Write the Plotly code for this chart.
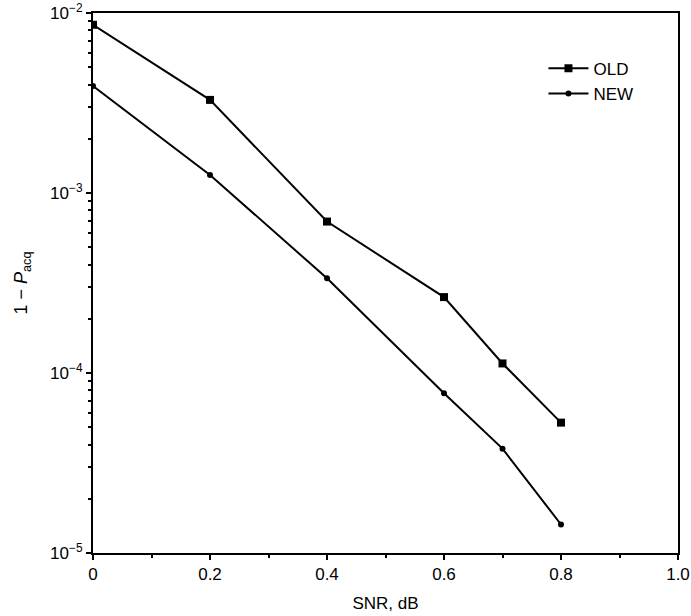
import plotly.graph_objects as go

snr = [0, 0.2, 0.4, 0.6, 0.7, 0.8]
old_vals = [8.6e-3, 3.29e-3, 6.94e-4, 2.64e-4, 1.13e-4, 5.30e-5]
new_vals = [3.93e-3, 1.26e-3, 3.36e-4, 7.71e-5, 3.80e-5, 1.44e-5]

x_ticks = [0, 0.2, 0.4, 0.6, 0.8, 1.0]
x_labels = ["0", "0.2", "0.4", "0.6", "0.8", "1.0"]
y_ticks = [1e-2, 1e-3, 1e-4, 1e-5]
y_labels = ["10<sup>−2</sup>", "10<sup>−3</sup>", "10<sup>−4</sup>", "10<sup>−5</sup>"]

FONT = "Liberation Sans, Arial, sans-serif"

fig = go.Figure()
fig.add_trace(go.Scatter(
    x=snr, y=old_vals, name="OLD", mode="lines+markers",
    line=dict(color="black", width=2),
    marker=dict(symbol="square", size=8, color="black"),
))
fig.add_trace(go.Scatter(
    x=snr, y=new_vals, name="NEW", mode="lines+markers",
    line=dict(color="black", width=2),
    marker=dict(symbol="circle", size=6, color="black"),
))

fig.update_layout(
    width=691, height=616,
    margin=dict(l=93, r=13, t=13, b=63),
    paper_bgcolor="white", plot_bgcolor="white",
    font=dict(family=FONT, size=17, color="black"),
    showlegend=True,
    legend=dict(
        x=0.77, y=0.93, xanchor="left", yanchor="top",
        bgcolor="rgba(0,0,0,0)", borderwidth=0,
        font=dict(family=FONT, size=17, color="black"),
        tracegroupgap=0, itemwidth=40,
    ),
    xaxis=dict(
        range=[0, 1.0], tickvals=x_ticks, ticktext=x_labels,
        showline=True, linecolor="black", linewidth=2, mirror=True,
        ticks="outside", ticklen=5, tickwidth=2, tickcolor="black",
        minor=dict(ticks="outside", ticklen=3, tickwidth=1.5, tickcolor="black", dtick=0.1),
        showgrid=False, zeroline=False, automargin=False,
        tickfont=dict(size=17), ticklabeloverflow="allow",
        title=dict(text="SNR, dB", font=dict(size=17), standoff=14),
    ),
    yaxis=dict(
        type="log", range=[-5, -2], tickvals=y_ticks, ticktext=y_labels,
        showline=True, linecolor="black", linewidth=2, mirror=True,
        ticks="outside", ticklen=5, tickwidth=2, tickcolor="black",
        minor=dict(ticks="outside", ticklen=3, tickwidth=1.5, tickcolor="black", dtick="D1"),
        showgrid=False, zeroline=False, automargin=False,
        tickfont=dict(size=17), ticklabeloverflow="allow",
        title=dict(text="1 − <i>P</i><sub>acq</sub>", font=dict(size=18), standoff=18),
    ),
)

fig.write_html("out.html")
